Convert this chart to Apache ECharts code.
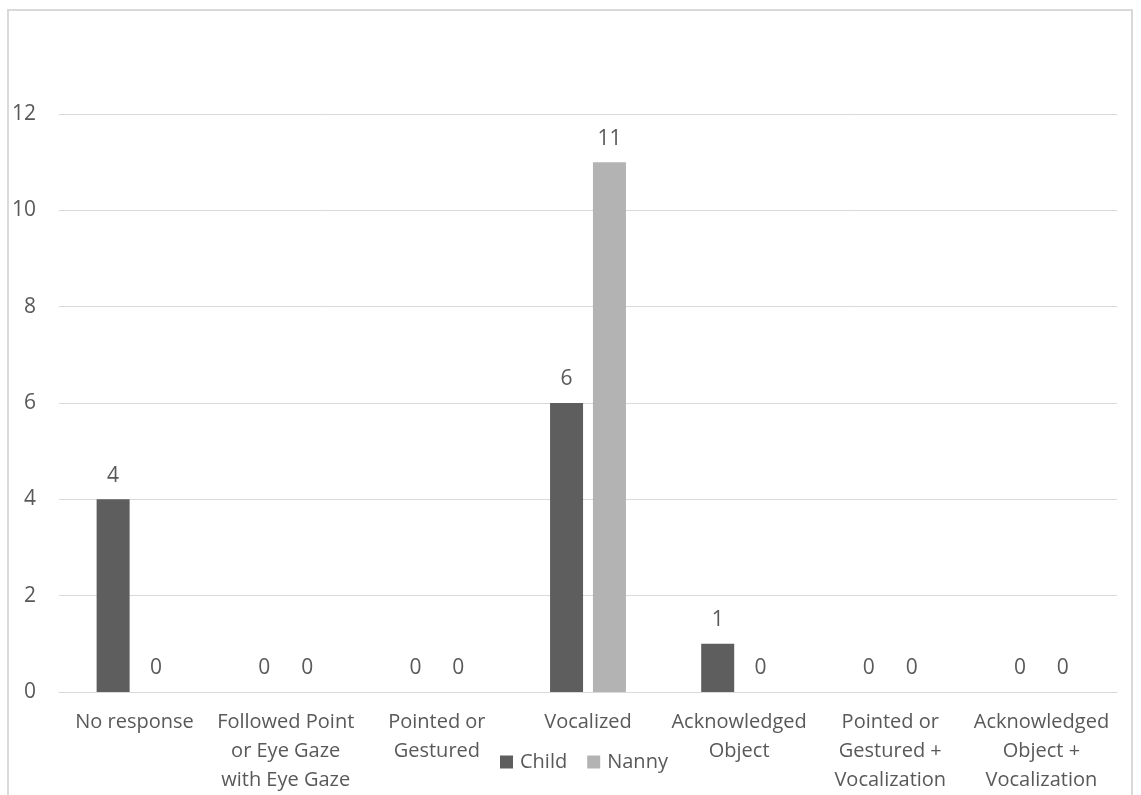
<!DOCTYPE html>
<html>
<head>
<meta charset="utf-8">
<script src="https://cdn.jsdelivr.net/npm/echarts@6/dist/echarts.min.js"></script>
<style>
html,body{margin:0;padding:0;background:#fff;}
#chart{width:1141px;height:795px;}
</style>
</head>
<body>
<div id="chart"></div>
<script>
// Response categories (tick labels with manual line breaks)
const categories = [
  'No response',
  'Followed Point\nor Eye Gaze\nwith Eye Gaze',
  'Pointed or\nGestured',
  'Vocalized',
  'Acknowledged\nObject',
  'Pointed or\nGestured +\nVocalization',
  'Acknowledged\nObject +\nVocalization'
];
const childCounts = [4, 0, 0, 6, 1, 0, 0];
const nannyCounts = [0, 0, 0, 11, 0, 0, 0];
const yTicks = [0, 2, 4, 6, 8, 10, 12];

const FONT = '"Open Sans", "Noto Sans", sans-serif';
const TEXT = '#595959';

const chart = echarts.init(document.getElementById('chart'), null, {renderer: 'canvas'});

const labelStyle = {
  show: true,
  position: 'top',
  distance: 13,
  color: TEXT,
  fontFamily: FONT,
  fontSize: 21
};

chart.setOption({
  animation: false,
  backgroundColor: '#fff',
  textStyle: {fontFamily: FONT},
  graphic: [{
    type: 'rect',
    shape: {x: 8, y: 10, width: 1124, height: 820},
    style: {fill: 'none', stroke: '#d9d9d9', lineWidth: 2},
    silent: true
  }],
  grid: {left: 59, right: 24, top: 114, bottom: 103, containLabel: false},
  legend: {
    data: ['Child', 'Nanny'],
    left: 495,
    top: 747,
    icon: 'rect',
    itemWidth: 13,
    itemHeight: 13,
    itemGap: 20,
    textStyle: {color: TEXT, fontFamily: FONT, fontSize: 20, padding: [0, 0, 0, 2]}
  },
  xAxis: {
    type: 'category',
    data: categories,
    axisLine: {show: true, lineStyle: {color: '#d9d9d9', width: 1}},
    axisTick: {show: false},
    axisLabel: {
      color: TEXT,
      fontFamily: FONT,
      fontSize: 20,
      lineHeight: 29,
      margin: 16,
      interval: 0
    }
  },
  yAxis: {
    type: 'value',
    min: yTicks[0],
    max: yTicks[yTicks.length - 1],
    interval: 2,
    axisLine: {show: false},
    axisTick: {show: false},
    splitLine: {lineStyle: {color: '#d9d9d9', width: 1}},
    axisLabel: {color: TEXT, fontFamily: FONT, fontSize: 21, margin: 23}
  },
  series: [
    {
      name: 'Child',
      type: 'bar',
      data: childCounts,
      barWidth: 33,
      barGap: '30%',
      itemStyle: {color: '#5e5e5e'},
      label: labelStyle
    },
    {
      name: 'Nanny',
      type: 'bar',
      data: nannyCounts,
      barWidth: 33,
      itemStyle: {color: '#b3b3b3'},
      label: labelStyle
    }
  ]
});
</script>
</body>
</html>
